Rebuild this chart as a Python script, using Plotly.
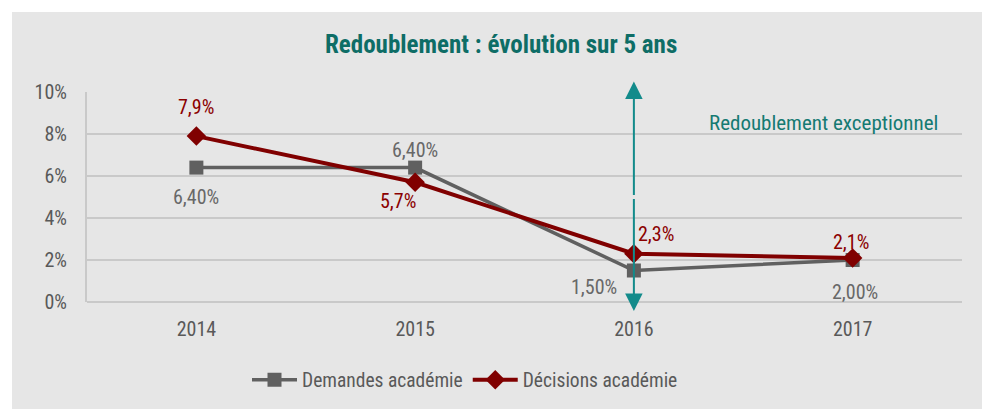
import plotly.graph_objects as go

years = ["2014", "2015", "2016", "2017"]
demandes = [6.4, 6.4, 1.5, 2.0]
decisions = [7.9, 5.7, 2.3, 2.1]
demandes_labels = ["6,40%", "6,40%", "1,50%", "2,00%"]
decisions_labels = ["7,9%", "5,7%", "2,3%", "2,1%"]
y_ticks = [0, 2, 4, 6, 8, 10]
y_tick_labels = ["0%", "2%", "4%", "6%", "8%", "10%"]
arrow_index = 2          # 2016
arrow_top, arrow_bottom, arrow_mid = 10.5, -0.43, 5.0

FONT = "Roboto Condensed, Liberation Sans Narrow, Arial Narrow, Roboto, sans-serif"
GRAY = "#606060"
RED = "#800000"
TEAL = "#0e6d66"
ARROW = "#138b8b"
BG = "#e6e6e6"

L, R, T, B = 87, 20, 92, 107
W, H = 982, 409
pw = W - L - R
ph = H - T - B

fig = go.Figure()
fig.add_trace(go.Scatter(
    x=years, y=demandes, name="Demandes académie", mode="lines+markers",
    line=dict(color=GRAY, width=3.5),
    marker=dict(symbol="square", size=14, color=GRAY),
))
fig.add_trace(go.Scatter(
    x=years, y=decisions, name="Décisions académie", mode="lines+markers",
    line=dict(color=RED, width=4),
    marker=dict(symbol="diamond", size=15, color=RED),
))

# data labels
dem_shift = [(0, -29), (0, 18), (-40, -16), (2, -32)]
dec_shift = [(0, 29), (-17, -19), (22, 20), (-2, 16)]
anns = []
for i in range(len(years)):
    dx, dy = dem_shift[i]
    anns.append(dict(x=i, y=demandes[i], text=demandes_labels[i], showarrow=False,
                     xshift=dx, yshift=dy, font=dict(family=FONT, size=20, color="#686868")))
    dx, dy = dec_shift[i]
    anns.append(dict(x=i, y=decisions[i], text=decisions_labels[i], showarrow=False,
                     xshift=dx, yshift=dy, font=dict(family=FONT, size=20, color="#8b0000")))

# double-headed vertical arrow at 2016 (two arrows from the middle outward)
for tip in (arrow_top, arrow_bottom):
    anns.append(dict(x=arrow_index, y=tip, ax=arrow_index, ay=arrow_mid,
                     xref="x", yref="y", axref="x", ayref="y",
                     text=" ", showarrow=True, arrowhead=2, arrowsize=1.75,
                     arrowwidth=2, arrowcolor=ARROW, standoff=0, startstandoff=0,
                     font=dict(size=1)))

anns.append(dict(x=2.867, y=8.53, text="Redoublement exceptionnel", showarrow=False,
                 font=dict(family=FONT, size=21, color="#157a72")))
# title
anns.append(dict(xref="paper", yref="paper", x=(501 - L) / pw, y=(H - B - 45) / ph,
                 xanchor="center", yanchor="middle",
                 text="<b>Redoublement : évolution sur 5 ans</b>", showarrow=False,
                 font=dict(family=FONT, size=25, color=TEAL)))

fig.update_layout(
    width=W, height=H,
    margin=dict(l=L, r=R, t=T, b=B, autoexpand=False),
    paper_bgcolor="white",
    plot_bgcolor="rgba(0,0,0,0)",
    font=dict(family=FONT, size=20, color="#595959"),
    showlegend=True,
    legend=dict(orientation="h", x=(465 - L) / pw, xanchor="center",
                y=(H - B - 380) / ph, yanchor="middle",
                font=dict(family=FONT, size=19.5, color="#595959"),
                itemwidth=45, bgcolor="rgba(0,0,0,0)", traceorder="normal"),
    annotations=anns,
    shapes=[dict(type="rect", xref="paper", yref="paper",
                 x0=(12 - L) / pw, x1=(W - L) / pw + 0.01,
                 y0=-(B) / ph - 0.01, y1=(H - B - 12) / ph,
                 fillcolor=BG, line=dict(width=0), layer="below")],
)
fig.update_xaxes(type="category", range=[-0.5, 3.5], showgrid=False,
                 showline=False, ticks="outside", ticklen=9, tickcolor="rgba(0,0,0,0)",
                 tickfont=dict(family=FONT, size=20, color="#595959"), fixedrange=True,
                 automargin=False)
fig.update_yaxes(range=[0, 10], tickvals=y_ticks, ticktext=y_tick_labels,
                 showgrid=True, gridcolor="#c9c9c9", gridwidth=2,
                 showline=True, linecolor="#c9c9c9", linewidth=2,
                 zeroline=True, zerolinecolor="#c9c9c9", zerolinewidth=2,
                 ticks="outside", ticklen=14, tickcolor="rgba(0,0,0,0)",
                 tickfont=dict(family=FONT, size=20, color="#595959"), fixedrange=True,
                 automargin=False)

fig.write_html("out.html", config={"displayModeBar": False},
               post_script="document.body.style.margin='0';")
